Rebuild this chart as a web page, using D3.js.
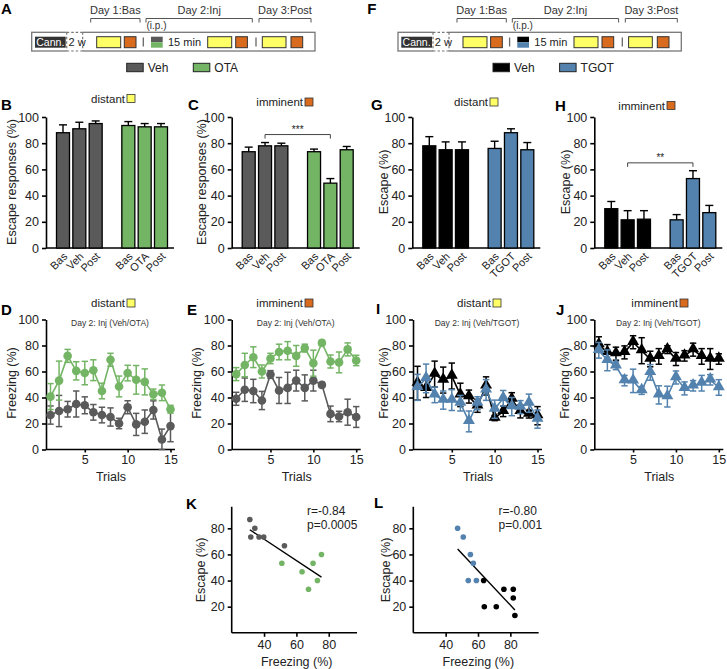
<!DOCTYPE html>
<html><head><meta charset="utf-8">
<script src="https://cdn.jsdelivr.net/npm/d3@7"></script>
<style>body{margin:0;background:#fff}svg{font-family:Arial,"Liberation Sans",sans-serif}</style>
</head><body><svg id="c" width="727" height="669"></svg>
<script>
// ---------- DATA ----------
const vehCats = ["Bas","Veh","Post"];
const otaCats = ["Bas","OTA","Post"];
const tgotCats = ["Bas","TGOT","Post"];
const yTicks = [0,20,40,60,80,100];

const B_veh = [88,91,95], B_vehErr = [6,5,2];
const B_ota = [93.5,92.5,92.5], B_otaErr = [3,2.5,2.5];
const C_veh = [73.5,78,78], C_vehErr = [3.5,2.5,2];
const C_ota = [73.5,49.5,75], C_otaErr = [2,3.5,2.5];
const G_veh = [78,75,75], G_vehErr = [7,6,6];
const G_tgot = [76,88,75], G_tgotErr = [5.5,3,5.5];
const H_veh = [30,21.5,22], H_vehErr = [5.5,7,6.5];
const H_tgot = [21.5,53,27], H_tgotErr = [4,6,5.5];

const trials = [1,2,3,4,5,6,7,8,9,10,11,12,13,14,15];
const trialTicks = [5,10,15];
const D_veh = [26.5,29.6,31,35,34,28.6,26.5,25,20,32.5,19.3,21.4,30.4,7.7,18];
const D_vehErr = [7,12,6,10,6.5,6,6,7,4,5,8.5,9,7,8,12];
const D_ota = [40.7,53,72,60.5,58.8,61,45,69,48.5,58.8,53.6,52,42.5,43.6,31];
const D_otaErr = [10,15,5,7,9,8,6,5,8,6,11,10,4,6,3];
const E_veh = [39,46,45,37.7,57.7,45.4,47.4,53,47.4,53,49.7,27.4,25.4,28.7,25];
const E_vehErr = [5,9,9,7,3,10,12,8,10,8,2,6,4,10,8];
const E_ota = [58,65,71,60,70,75,76,72,78,66.4,82,67.7,67,77,68.5];
const E_otaErr = [5,9,8,5,4,6,7,8,3,10,2,5,8,5,4];
const I_veh = [51,47,58,53.4,56.5,42,40.7,33.6,48.9,24.2,29.3,38.7,29.3,27.2,26];
const I_vehErr = [13,7,10,10,10,9,5,5,7,2,4,5,5,3,7];
const I_tgot = [47.8,54.7,42,38,38,35.6,21.6,35.6,45.8,31,39.4,33,32.6,35.6,23.4];
const I_tgotErr = [10,11,6,7,8,6,8,5,8,7,6,7,5,7,7];
const J_veh = [80.7,74.7,73.7,74.7,82.5,76,69.6,71.6,76.8,69.6,72,76.8,71.6,69.6,69.6];
const J_vehErr = [6,6,5,5,5,10,6,6,3,5,4,5,6,8,4];
const J_tgot = [76.3,68.6,64.4,53,52.8,45.4,59.3,42,40.7,55.4,47,49,51,53.6,47.7];
const J_tgotErr = [6,8,3,4,9,3,6,7,8,5,5,4,6,4,6];

const scTicksX = [40,60,80], scTicksY = [20,40,60,80];
const K_vehX = [31.2,34.3,31.8,36.9,39.8,52.6], K_vehY = [86.7,80,73.3,73.3,73.3,66.7];
const K_otaX = [51,63.5,70.3,75.5,73,67.5], K_otaY = [53.3,46.7,53.3,60,40,33.3];
const L_tgotX = [47.4,50.9,55.3,57.1,54,59], L_tgotY = [80,73.3,60,53.3,40,40];
const L_vehX = [63.5,76,81.8,81.8,63.9,71.3,82.8], L_vehY = [40,33.3,33.3,26.7,20,20,13.3];

// ---------- STYLE ----------
const cGray="#5a5a5a", cGreen="#74b565", cBlue="#5282ad", cBlack="#000000", cYellow="#ffff66", cOrange="#d96b1f";
const svg = d3.select("#c");

function panelLabel(t,x,y){ svg.append("text").attr("x",x).attr("y",y).attr("font-size",15).attr("font-weight","bold").text(t); }
function titleSq(txt,xEnd,yc,col){
  svg.append("text").attr("x",xEnd).attr("y",yc+4).attr("text-anchor","end").attr("font-size",11.5).attr("fill","#222").text(txt);
  svg.append("rect").attr("x",xEnd+2).attr("y",yc-4).attr("width",8).attr("height",8).attr("fill",col).attr("stroke","#333").attr("stroke-width",0.8);
}
function yLabel(txt,x,yc){ svg.append("text").attr("transform",`translate(${x},${yc}) rotate(-90)`).attr("text-anchor","middle").attr("dominant-baseline","middle").attr("font-size",12.5).attr("fill","#222").text(txt); }

// ---------- BAR PANELS ----------
function barPanel(o){
  const g = svg.append("g");
  const y = d3.scaleLinear().domain([0,100]).range([248,117]);
  const keys = o.c1.map(d=>"a"+d).concat(["gap"]).concat(o.c2.map(d=>"b"+d));
  const x = d3.scalePoint().domain(keys).range([o.ax+17,o.ax+115]);
  const ya = g.append("g").attr("transform",`translate(${o.ax},0)`).call(d3.axisLeft(y).tickValues(yTicks).tickSize(4).tickSizeOuter(0));
  ya.selectAll("text").attr("font-size",12.5).attr("fill","#222").attr("font-family","Arial");
  ya.selectAll("line,path").attr("stroke","#000").attr("stroke-width",1.6);
  g.append("line").attr("x1",o.ax).attr("x2",o.ax+128).attr("y1",y(0)).attr("y2",y(0)).attr("stroke","#000").attr("stroke-width",1.6);
  const groups=[{cats:o.c1,v:o.v1,e:o.e1,col:o.col1,p:"a"},{cats:o.c2,v:o.v2,e:o.e2,col:o.col2,p:"b"}];
  const bw=13;
  groups.forEach(gr=>{
    gr.cats.forEach((c,i)=>{
      const cx=x(gr.p+c);
      g.append("line").attr("x1",cx).attr("x2",cx).attr("y1",y(gr.v[i])).attr("y2",y(gr.v[i]+gr.e[i])).attr("stroke","#000").attr("stroke-width",1.4);
      g.append("line").attr("x1",cx-4).attr("x2",cx+4).attr("y1",y(gr.v[i]+gr.e[i])).attr("y2",y(gr.v[i]+gr.e[i])).attr("stroke","#000").attr("stroke-width",1.4);
      g.append("rect").attr("x",cx-bw/2).attr("width",bw).attr("y",y(gr.v[i])).attr("height",y(0)-y(gr.v[i])).attr("fill",gr.col).attr("stroke","#000").attr("stroke-width",1.3);
      g.append("text").attr("transform",`translate(${cx+3},${y(0)+7}) rotate(-45)`).attr("text-anchor","end").attr("dominant-baseline","middle").attr("font-size",11).attr("fill","#222").text(c);
    });
  });
  if(o.br){
    const x1=x("a"+o.c1[1]), x2=x("b"+o.c2[1]), yb=y(o.br.v);
    g.append("path").attr("d",`M${x1},${yb+4}V${yb}H${x2}V${yb+4}`).attr("fill","none").attr("stroke","#444").attr("stroke-width",1);
    g.append("text").attr("x",(x1+x2)/2).attr("y",yb-1.5).attr("text-anchor","middle").attr("font-size",10).attr("fill","#222").text(o.br.t);
  }
}
barPanel({ax:46,c1:vehCats,c2:otaCats,v1:B_veh,e1:B_vehErr,v2:B_ota,e2:B_otaErr,col1:cGray,col2:cGreen});
barPanel({ax:231.7,c1:vehCats,c2:otaCats,v1:C_veh,e1:C_vehErr,v2:C_ota,e2:C_otaErr,col1:cGray,col2:cGreen,br:{v:86.6,t:"***"}});
barPanel({ax:412.3,c1:vehCats,c2:tgotCats,v1:G_veh,e1:G_vehErr,v2:G_tgot,e2:G_tgotErr,col1:cBlack,col2:cBlue});
barPanel({ax:594.3,c1:vehCats,c2:tgotCats,v1:H_veh,e1:H_vehErr,v2:H_tgot,e2:H_tgotErr,col1:cBlack,col2:cBlue,br:{v:65,t:"**"}});
panelLabel("B",1,110); panelLabel("C",188,110); panelLabel("G",371,110); panelLabel("H",555,111);
titleSq("distant",125,98.5,cYellow); titleSq("imminent",303,102,cOrange);
titleSq("distant",488,102,cYellow); titleSq("imminent",665,105.5,cOrange);
yLabel("Escape responses (%)",13,182); yLabel("Escape responses (%)",203,182);
yLabel("Escape (%)",385,182); yLabel("Escape (%)",567,182);

// ---------- TRIAL PANELS ----------
function trialPanel(o){
  const g=svg.append("g");
  const y=d3.scaleLinear().domain([0,100]).range([449.5,319.5]);
  const x=d3.scaleLinear().domain([1,15]).range([o.ax+4.5,o.ax+124.5]);
  const ya=g.append("g").attr("transform",`translate(${o.ax},0)`).call(d3.axisLeft(y).tickValues(yTicks).tickSize(4).tickSizeOuter(0));
  const xa=g.append("g").attr("transform",`translate(0,${y(0)})`).call(d3.axisBottom(x).tickValues(trialTicks).tickSize(3).tickSizeOuter(0));
  xa.select(".domain").remove();
  g.append("line").attr("x1",o.ax).attr("x2",o.ax+129).attr("y1",y(0)).attr("y2",y(0)).attr("stroke","#000").attr("stroke-width",1.6);
  [ya,xa].forEach(a=>{a.selectAll("text").attr("font-size",12.5).attr("fill","#222").attr("font-family","Arial");a.selectAll("line,path").attr("stroke","#000").attr("stroke-width",1.6);});
  o.series.forEach(s=>{
    const line=d3.line().x((d,i)=>x(trials[i])).y(d=>y(d));
    g.append("path").attr("d",line(s.v)).attr("fill","none").attr("stroke",s.col).attr("stroke-width",1.6);
    s.v.forEach((v,i)=>{
      const cx=x(trials[i]), lo=y(Math.max(0,v-s.e[i])), hi=y(v+s.e[i]);
      g.append("line").attr("x1",cx).attr("x2",cx).attr("y1",lo).attr("y2",hi).attr("stroke",s.col).attr("stroke-width",1.5);
      [lo,hi].forEach(yy=>g.append("line").attr("x1",cx-3.2).attr("x2",cx+3.2).attr("y1",yy).attr("y2",yy).attr("stroke",s.col).attr("stroke-width",1.5));
    });
    const sym=d3.symbol().type(s.shape==="tri"?d3.symbolTriangle:d3.symbolCircle).size(s.shape==="tri"?62:58);
    s.v.forEach((v,i)=>{
      g.append("path").attr("d",sym()).attr("transform",`translate(${x(trials[i])},${y(v)+(s.shape==="tri"?-0.8:0)})`).attr("fill",s.col);
    });
  });
  g.append("text").attr("x",o.ax+64).attr("y",326).attr("text-anchor","middle").attr("font-size",8.5).attr("fill","#333").text(o.sub);
  g.append("text").attr("x",o.ax+65).attr("y",481).attr("text-anchor","middle").attr("font-size",12.5).attr("fill","#222").text("Trials");
}
trialPanel({ax:46,sub:"Day 2: Inj (Veh/OTA)",series:[{v:D_veh,e:D_vehErr,col:cGray,shape:"c"},{v:D_ota,e:D_otaErr,col:cGreen,shape:"c"}]});
trialPanel({ax:231.7,sub:"Day 2: Inj (Veh/OTA)",series:[{v:E_veh,e:E_vehErr,col:cGray,shape:"c"},{v:E_ota,e:E_otaErr,col:cGreen,shape:"c"}]});
trialPanel({ax:413,sub:"Day 2: Inj (Veh/TGOT)",series:[{v:I_veh,e:I_vehErr,col:cBlack,shape:"tri"},{v:I_tgot,e:I_tgotErr,col:cBlue,shape:"tri"}]});
trialPanel({ax:594.3,sub:"Day 2: Inj (Veh/TGOT)",series:[{v:J_veh,e:J_vehErr,col:cBlack,shape:"tri"},{v:J_tgot,e:J_tgotErr,col:cBlue,shape:"tri"}]});
panelLabel("D",1,315); panelLabel("E",187,315); panelLabel("I",376,314); panelLabel("J",556,315);
titleSq("distant",125,303,cYellow); titleSq("imminent",303,303,cOrange);
titleSq("distant",491,303,cYellow); titleSq("imminent",678,303,cOrange);
yLabel("Freezing   (%)",13,383); yLabel("Freezing   (%)",198,383);
yLabel("Freezing   (%)",385,383); yLabel("Freezing   (%)",566,383);

// ---------- SCATTER PANELS ----------
function scatterPanel(o){
  const g=svg.append("g");
  const y=d3.scaleLinear().domain([0,100]).range([632.8,502.2]);
  const x=d3.scaleLinear().domain([20,100]).range([o.ax,o.ax+129.4]);
  const ya=g.append("g").attr("transform",`translate(${o.ax},0)`).call(d3.axisLeft(y).tickValues(scTicksY).tickSize(4).tickSizeOuter(0));
  const xa=g.append("g").attr("transform",`translate(0,${y(0)})`).call(d3.axisBottom(x).tickValues(scTicksX).tickSize(4).tickSizeOuter(0));
  ya.select(".domain").remove(); xa.select(".domain").remove();
  g.append("line").attr("x1",o.ax).attr("x2",o.ax).attr("y1",y(0)).attr("y2",y(96.5)).attr("stroke","#000").attr("stroke-width",1.6);
  g.append("line").attr("x1",o.ax).attr("x2",x(97.5)).attr("y1",y(0)).attr("y2",y(0)).attr("stroke","#000").attr("stroke-width",1.6);
  [ya,xa].forEach(a=>{a.selectAll("text").attr("font-size",12.5).attr("fill","#222").attr("font-family","Arial");a.selectAll("line").attr("stroke","#000").attr("stroke-width",1.6);});
  const allX=o.groups.flatMap(s=>s.x), allY=o.groups.flatMap(s=>s.y);
  const mx=d3.mean(allX), my=d3.mean(allY);
  const b=d3.sum(allX.map((v,i)=>(v-mx)*(allY[i]-my)))/d3.sum(allX.map(v=>(v-mx)*(v-mx)));
  const a0=my-b*mx, xmn=d3.min(allX), xmx=d3.max(allX);
  g.append("line").attr("x1",x(xmn)).attr("x2",x(xmx)).attr("y1",y(a0+b*xmn)).attr("y2",y(a0+b*xmx)).attr("stroke","#000").attr("stroke-width",1.4);
  o.groups.forEach(s=>s.x.forEach((v,i)=>g.append("circle").attr("cx",x(v)).attr("cy",y(s.y[i])).attr("r",2.8).attr("fill",s.col)));
  g.append("text").attr("x",o.tx).attr("y",515).attr("font-size",12).attr("fill","#222").text(o.r);
  g.append("text").attr("x",o.tx).attr("y",529).attr("font-size",12).attr("fill","#222").text(o.p);
  g.append("text").attr("x",o.ax+65).attr("y",666).attr("text-anchor","middle").attr("font-size",12.5).attr("fill","#222").text("Freezing (%)");
}
scatterPanel({ax:231.7,tx:307,r:"r=-0.84",p:"p=0.0005",groups:[{x:K_vehX,y:K_vehY,col:cGray},{x:K_otaX,y:K_otaY,col:cGreen}]});
scatterPanel({ax:413.3,tx:498.5,r:"r=-0.80",p:"p=0.001",groups:[{x:L_tgotX,y:L_tgotY,col:cBlue},{x:L_vehX,y:L_vehY,col:cBlack}]});
panelLabel("K",186,509); panelLabel("L",374,508);
yLabel("Escape (%)",202,570); yLabel("Escape (%)",387,570);

// ---------- TIMELINES ----------
function timeline(dx,lab,topCol,botCol,n1,n2){
  const g=svg.append("g").attr("transform",`translate(${dx},0)`);
  g.append("text").attr("x",1).attr("y",14).attr("font-size",15).attr("font-weight","bold").text(lab);
  const days=[["Day 1:Bas",90.7,140],["Day 2:Inj",146,252.3],["Day 3:Post",259,311]];
  days.forEach(d=>{
    g.append("text").attr("x",(d[1]+d[2])/2).attr("y",14).attr("text-anchor","middle").attr("font-size",11).attr("fill","#333").text(d[0]);
    g.append("path").attr("d",`M${d[1]},22.5V18.5H${d[2]}V22.5`).attr("fill","none").attr("stroke","#555").attr("stroke-width",1);
  });
  g.append("text").attr("x",146.5).attr("y",28.5).attr("font-size",10).attr("fill","#333").text("(i.p.)");
  g.append("rect").attr("x",31.7).attr("y",32.3).attr("width",283.3).attr("height",18.7).attr("fill","#fff").attr("stroke","#777").attr("stroke-width",1.3);
  g.append("rect").attr("x",66.7).attr("y",30).attr("width",16).attr("height",24).attr("fill","#fff");
  [[66.7,32.3,82.7,32.3],[66.7,51,82.7,51],[66.7,32.3,66.7,51],[82.7,32.3,82.7,51]].forEach(l=>g.append("line").attr("x1",l[0]).attr("y1",l[1]).attr("x2",l[2]).attr("y2",l[3]).attr("stroke","#777").attr("stroke-width",1.2).attr("stroke-dasharray","2.5,2"));
  g.append("rect").attr("x",35).attr("y",36.7).attr("width",30.7).attr("height",11).attr("fill","#333");
  g.append("text").attr("x",50.3).attr("y",46).attr("text-anchor","middle").attr("font-size",10.5).attr("fill","#fff").text("Cann.");
  g.append("text").attr("x",68.5).attr("y",46).attr("font-size",11).attr("fill","#222").text("2 w");
  [[96.7,24],[207.7,24],[262.3,23.7]].forEach(r=>g.append("rect").attr("x",r[0]).attr("y",36.7).attr("width",r[1]).attr("height",11).attr("fill",cYellow).attr("stroke","#333").attr("stroke-width",1));
  [124.3,235.7,291].forEach(xx=>g.append("rect").attr("x",xx).attr("y",36.7).attr("width",11.7).attr("height",11).attr("fill",cOrange).attr("stroke","#333").attr("stroke-width",1));
  [143.3,256].forEach(xx=>g.append("line").attr("x1",xx).attr("x2",xx).attr("y1",37.5).attr("y2",46.5).attr("stroke","#666").attr("stroke-width",1.3));
  g.append("rect").attr("x",151).attr("y",36.7).attr("width",11.7).attr("height",5.5).attr("fill",topCol);
  g.append("rect").attr("x",151).attr("y",42.2).attr("width",11.7).attr("height",5.5).attr("fill",botCol);
  g.append("text").attr("x",168).attr("y",46).attr("font-size",11).attr("fill","#222").text("15 min");
  [[126.7,topCol,n1],[193.3,botCol,n2]].forEach(l=>{
    g.append("rect").attr("x",l[0]).attr("y",63.3).attr("width",16.5).attr("height",8.4).attr("fill",l[1]).attr("stroke","#222").attr("stroke-width",1);
    g.append("text").attr("x",l[0]+21).attr("y",72).attr("font-size",12).attr("fill","#222").text(l[2]);
  });
}
timeline(0,"A",cGray,cGreen,"Veh","OTA");
timeline(366.3,"F",cBlack,cBlue,"Veh","TGOT");
</script></body></html>
